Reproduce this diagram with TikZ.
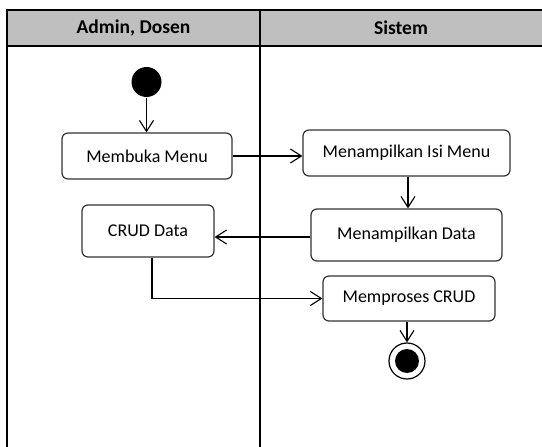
\documentclass[tikz,border=0pt]{standalone}
\usepackage{fontspec}
\setmainfont{Carlito}
\usetikzlibrary{arrows.meta,positioning}

\begin{document}
\begin{tikzpicture}[
    x = 1pt, y = -1pt, % pixel-like units, y downwards
    > = {Straight Barb[length=11pt,width=14pt]}, % open arrow head
    line width = 1.1pt,
    font = \fontsize{18}{21}\selectfont
    ]

    \tikzset{activity/.style={
    draw = black!80,
    line width = 1.2pt,
    rounded corners = 6pt,
    fill = white,
    inner sep = 0pt
    }}
    \tikzset{lane/.style={line width = 2pt, black}}
    \tikzset{lanetitle/.style={font=\fontsize{19.5}{22}\selectfont\bfseries}}

    \useasboundingbox (0,0) rectangle (542,447);
    \clip (0,0) rectangle (542,447);

    % swimlanes
    \fill[black!25] (7,10) rectangle (560,46);
    \draw[lane] (7,460) -- (7,10) -- (560,10);
    \draw[lane] (7,46) -- (560,46);
    \draw[lane] (260,10) -- (260,460);
    \node[lanetitle] (lane1) at (133.5,28) {Admin, Dosen};
    \node[lanetitle] (lane2) at (401,28) {Sistem};

    % activities
    \node[circle, fill=black, minimum size=30pt, inner sep=0pt] (start) at (146.5,82) {};
    \node[activity, minimum width=170pt, minimum height=46pt] (membuka) at (147,156) {Membuka Menu};
    \node[activity, minimum width=207pt, minimum height=46pt] (isi) at (406.5,153) {Menampilkan Isi Menu};
    \node[activity, minimum width=191pt, minimum height=52pt] (tampil) at (406.5,235) {Menampilkan Data};
    \node[activity, minimum width=132pt, minimum height=52pt] (crud) at (148,231) {CRUD Data};
    \node[activity, minimum width=172pt, minimum height=45pt] (proses) at (409,298.5) {Memproses CRUD};
    \node[circle, draw=black, line width=1.2pt, minimum size=36pt, inner sep=0pt] (end) at (407,361) {};
    \fill (end.center) circle (12pt);

    \draw[->] (start) -- (start |- membuka.north);
    \draw[->] (membuka.east) -- (membuka.east -| isi.west);
    \draw[->] (isi.south -| 408,0) -- (tampil.north -| 408,0);
    \draw[->] (tampil.west |- 0,237) -- (crud.east |- 0,237);
    \draw[->] (crud.south -| 152,0) |- (proses.west);
    \draw[->] (proses.south -| end.north) -- (end.north);
\end{tikzpicture}
\end{document}
